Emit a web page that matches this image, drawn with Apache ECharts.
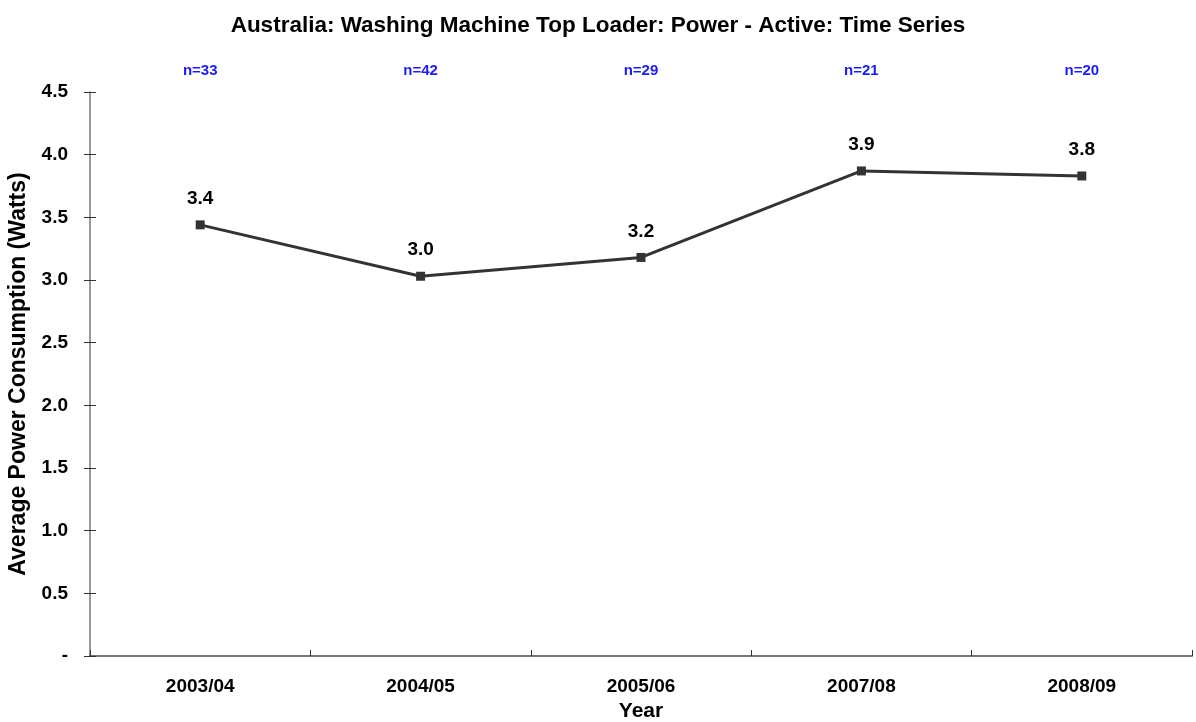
<!DOCTYPE html>
<html>
<head>
<meta charset="utf-8">
<script src="https://cdn.jsdelivr.net/npm/echarts@6/dist/echarts.min.js"></script>
<style>
html, body { margin: 0; padding: 0; background: #fff; }
#chart { width: 1196px; height: 722px; }
</style>
</head>
<body>
<div id="chart"></div>
<script>
// data
var years = ['2003/04', '2004/05', '2005/06', '2007/08', '2008/09']
var counts = ['n=33', 'n=42', 'n=29', 'n=21', 'n=20']
var power = [3.44, 3.03, 3.18, 3.87, 3.83]

var font = 'Liberation Sans, Arial, sans-serif'

var yLabel = function (v) {
    return v === 0 ? '-' : v.toFixed(1)
}

var myChart = echarts.init(document.getElementById('chart'))

var option = {
    animation: false,
    title: {
        text: 'Australia: Washing Machine Top Loader: Power - Active: Time Series',
        left: 'center',
        top: 9,
        textStyle: { fontFamily: font, fontSize: 22.5, fontWeight: 'bold', color: '#000' }
    },
    grid: { left: 90, right: 4, top: 92, bottom: 66, containLabel: false, outerBoundsMode: 'none' },
    xAxis: [{
        type: 'category',
        data: years,
        boundaryGap: true,
        name: 'Year',
        nameLocation: 'middle',
        nameGap: 43,
        nameTextStyle: { fontFamily: font, fontSize: 21, fontWeight: 'bold', color: '#000' },
        axisLine: { lineStyle: { color: '#777', width: 2 } },
        axisTick: { length: 7, lineStyle: { color: '#333' } },
        axisLabel: { margin: 21, fontFamily: font, fontSize: 19, fontWeight: 'bold', color: '#000' }
    }, {
        type: 'category',
        data: counts,
        position: 'top',
        axisLine: { show: false },
        axisTick: { show: false },
        axisLabel: { margin: 14, fontFamily: font, fontSize: 15, fontWeight: 'bold', color: '#1a1aff' }
    }, {
        type: 'category',
        data: years,
        position: 'bottom',
        axisLine: { show: false },
        axisTick: { show: true, inside: true, length: 6, lineStyle: { color: '#333' } },
        axisLabel: { show: false }
    }],
    yAxis: [{
        type: 'value',
        min: 0,
        max: 4.5,
        interval: 0.5,
        name: 'Average Power Consumption (Watts)',
        nameLocation: 'middle',
        nameGap: 60,
        nameTextStyle: { fontFamily: font, fontSize: 23, fontWeight: 'bold', color: '#000' },
        splitLine: { show: false },
        axisLine: { show: true, lineStyle: { color: '#777', width: 1.5 } },
        axisTick: { show: true, length: 6, lineStyle: { color: '#333' } },
        axisLabel: { margin: 22, fontFamily: font, fontSize: 19, fontWeight: 'bold', color: '#000', formatter: yLabel }
    }, {
        type: 'value',
        min: 0,
        max: 4.5,
        interval: 0.5,
        position: 'left',
        splitLine: { show: false },
        axisLine: { show: false },
        axisTick: { show: true, inside: true, length: 6, lineStyle: { color: '#333' } },
        axisLabel: { show: false }
    }],
    series: [{
        name: 'Power',
        type: 'line',
        data: power,
        symbol: 'rect',
        symbolSize: 9,
        lineStyle: { color: '#333', width: 3 },
        itemStyle: { color: '#333' },
        label: {
            show: true,
            position: 'top',
            distance: 12,
            fontFamily: font,
            fontSize: 19,
            fontWeight: 'bold',
            color: '#000',
            formatter: function (p) { return p.value.toFixed(1) }
        }
    }]
}

myChart.setOption(option)
</script>
</body>
</html>
